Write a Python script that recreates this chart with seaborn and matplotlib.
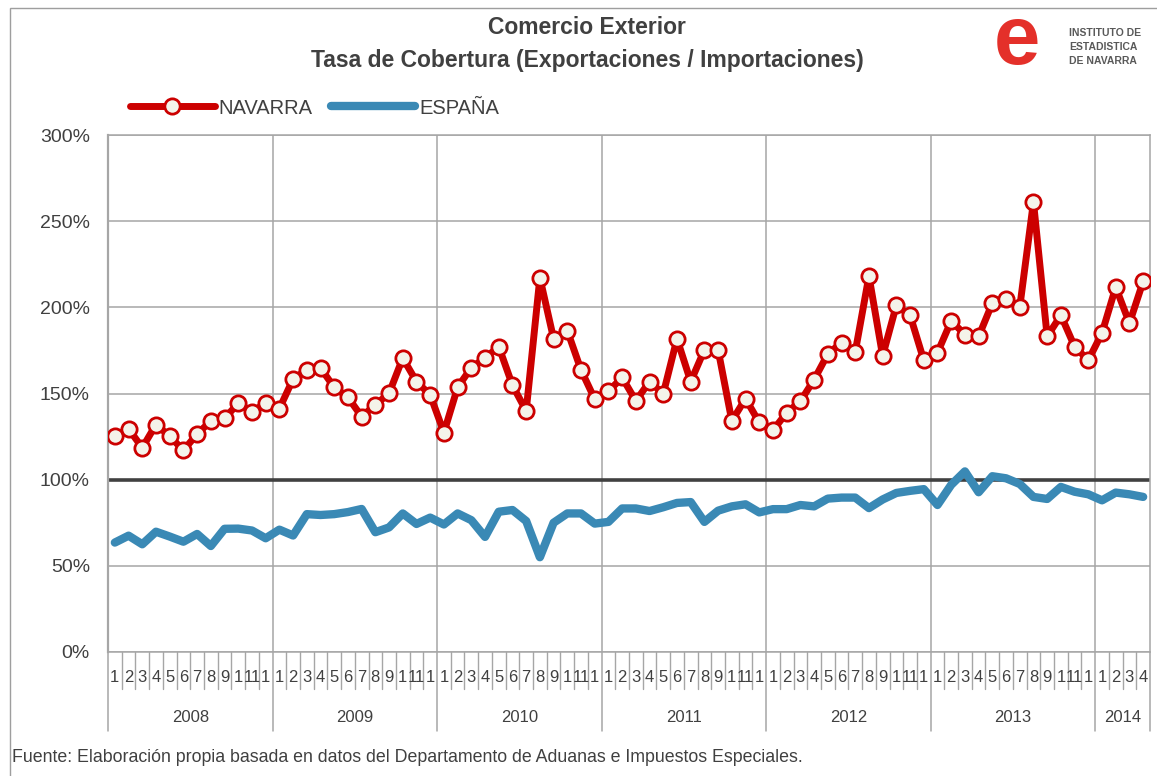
import matplotlib
matplotlib.use("Agg")
import matplotlib.pyplot as plt
import matplotlib.patches as mpatches
import matplotlib.transforms as mtransforms
import numpy as np
import pandas as pd
import seaborn as sns

# ---------------- data ----------------
years = ["2008", "2009", "2010", "2011", "2012", "2013", "2014"]
months_per_year = [12, 12, 12, 12, 12, 12, 4]
month_labels = ["1", "2", "3", "4", "5", "6", "7", "8", "9", "1", "11", "1"]

navarra = [
    125.4, 129.5, 118.5, 132.0, 125.2, 117.0, 126.5, 134.0, 135.6, 144.3, 139.5, 144.3,
    141.2, 158.4, 163.7, 164.8, 153.6, 147.8, 136.6, 143.4, 150.1, 170.6, 156.9, 149.2,
    127.3, 153.6, 165.0, 170.6, 177.2, 154.8, 139.9, 217.2, 181.8, 186.5, 163.7, 146.7,
    151.3, 159.3, 145.7, 156.9, 149.9, 181.8, 156.9, 175.3, 175.3, 134.1, 147.0, 133.2,
    128.6, 138.9, 145.5, 158.0, 172.9, 179.5, 174.0, 218.2, 171.8, 201.2, 195.4, 169.3,
    173.7, 192.1, 184.2, 183.1, 202.4, 204.7, 200.1, 261.2, 183.1, 195.4, 177.2, 169.3,
    185.1, 211.7, 190.8, 215.0,
]
espana = [
    63.5, 67.5, 62.5, 69.8, 67.0, 64.0, 68.5, 61.5, 71.5, 71.6, 70.5, 66.0,
    71.0, 67.6, 80.0, 79.5, 80.0, 81.2, 83.0, 69.5, 72.3, 80.4, 74.3, 78.0,
    74.0, 80.4, 76.5, 66.8, 81.4, 82.4, 76.0, 55.0, 75.0, 80.4, 80.4, 74.5,
    75.5, 83.3, 83.3, 81.8, 84.0, 86.5, 87.0, 75.5, 82.0, 84.5, 85.7, 81.0,
    82.9, 82.9, 85.3, 84.5, 89.0, 89.6, 89.6, 83.5, 88.5, 92.3, 93.5, 94.5,
    85.3, 97.0, 104.8, 92.7, 102.0, 100.8, 97.5, 90.0, 88.8, 95.8, 93.0, 91.5,
    88.0, 92.5, 91.5, 90.0,
]
yticks = [0, 50, 100, 150, 200, 250, 300]

n = len(navarra)
df = pd.DataFrame({"idx": np.arange(n), "NAVARRA": navarra, "ESPAÑA": espana})

# ---------------- figure ----------------
sns.set_theme(style="white")
plt.rcParams["font.family"] = ["Liberation Sans", "DejaVu Sans"]
TXT = "#404040"

fig = plt.figure(figsize=(11.57, 7.76), dpi=100)
W, H = 1157, 776
ax = fig.add_axes([108 / W, 1 - 652 / H, (1150 - 108) / W, (652 - 135) / H])

# outer frame
fig.patches.append(mpatches.Rectangle((10 / W, -0.01), 1.2, 1 - 8 / H + 0.01,
                                      transform=fig.transFigure, fill=False,
                                      edgecolor="#9E9E9E", lw=1.0))

# grid lines
for yv in yticks:
    ax.axhline(yv, color="#A6A6A6", lw=1.1, zorder=0)
boundaries = np.cumsum([0] + months_per_year) - 0.5
for b in boundaries[1:-1]:
    ax.axvline(b, color="#A6A6A6", lw=1.1, zorder=0)
ax.axhline(100, color="#404040", lw=2.6, zorder=1)

sns.lineplot(data=df, x="idx", y="ESPAÑA", ax=ax, color="#3A89B5", lw=6,
             label="ESPAÑA", zorder=2)
sns.lineplot(data=df, x="idx", y="NAVARRA", ax=ax, color="#CC0000", lw=5,
             marker="o", markersize=11, markerfacecolor="#F4F3EA",
             markeredgecolor="#CC0000", markeredgewidth=2, label="NAVARRA", zorder=3)

ax.set_xlim(-0.5, n - 0.5)
ax.set_ylim(0, 300)
ax.set_yticks(yticks)
ax.set_yticklabels([f"{v}%" for v in yticks], fontsize=14, color=TXT)
ax.tick_params(axis="y", length=0, pad=13)
ax.set_xticks([])
ax.set_xlabel("")
ax.set_ylabel("")
for side in ["left", "bottom", "right", "top"]:
    ax.spines[side].set_color("#A6A6A6")
    ax.spines[side].set_linewidth(1.1)
ax.spines["left"].set_linewidth(1.6)

# month / year category axis
trans = mtransforms.blended_transform_factory(ax.transData, ax.transAxes)
k = 0
for yi, (yr, nm) in enumerate(zip(years, months_per_year)):
    for m in range(nm):
        ax.text(k, -0.05, month_labels[m], transform=trans, ha="center", va="center",
                fontsize=12, color=TXT)
        if m > 0:
            ax.plot([k - 0.5, k - 0.5], [0, -0.072], transform=trans, color="#A6A6A6",
                    lw=1.0, clip_on=False)
        k += 1
    start = boundaries[yi]
    end = boundaries[yi + 1]
    ax.text((start + end) / 2, -0.127, yr, transform=trans, ha="center", va="center",
            fontsize=12, color=TXT)
for b in boundaries:
    ax.plot([b, b], [0, -0.152], transform=trans, color="#A6A6A6", lw=1.1, clip_on=False)

# legend
handles, labels = ax.get_legend_handles_labels()
order = [labels.index("NAVARRA"), labels.index("ESPAÑA")]
leg = ax.legend([handles[i] for i in order], [labels[i] for i in order],
                loc="center left", bbox_to_anchor=(112 / W, 1 - 108 / H),
                bbox_transform=fig.transFigure, ncol=2, frameon=False,
                fontsize=14.5, handlelength=4.2, handletextpad=0.2, columnspacing=0.9,
                labelcolor=TXT)

# titles
fig.text(587 / W, 1 - 27 / H, "Comercio Exterior", ha="center", va="center",
         fontsize=16.5, fontweight="bold", color=TXT)
fig.text(587 / W, 1 - 60 / H, "Tasa de Cobertura (Exportaciones / Importaciones)",
         ha="center", va="center", fontsize=16.5, fontweight="bold", color=TXT)

# logo
fig.text(1017 / W, 1 - 42 / H, "e", ha="center", va="center", fontsize=60,
         fontweight="bold", color="#E4302A")
for i, t in enumerate(["INSTITUTO DE", "ESTADISTICA", "DE NAVARRA"]):
    fig.text(1069 / W, 1 - (33 + 14 * i) / H, t, ha="left", va="center", fontsize=7.5,
             fontweight="bold", color="#595959")

# footnote
fig.text(12 / W, 1 - 757 / H,
         "Fuente: Elaboración propia basada en datos del Departamento de Aduanas e Impuestos Especiales.",
         ha="left", va="center", fontsize=12.8, color=TXT)

fig.savefig("out.png", dpi=100)
